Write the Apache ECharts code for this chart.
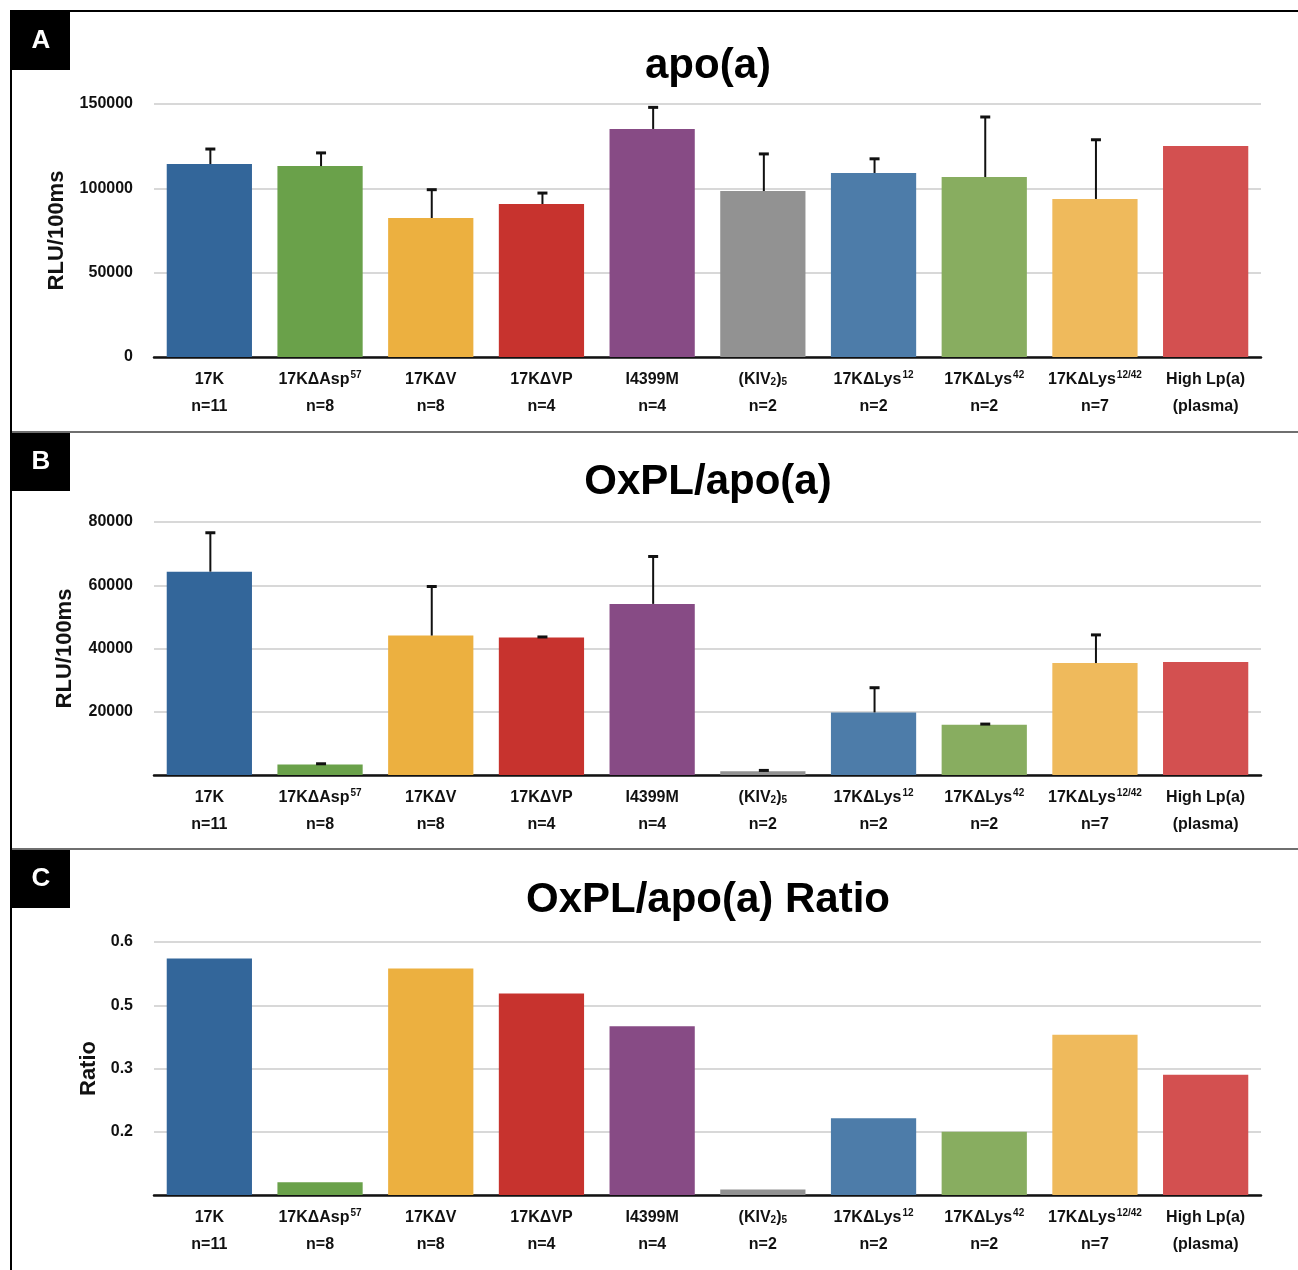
<!DOCTYPE html>
<html>
<head>
<meta charset="utf-8">
<title>apo(a) / OxPL</title>
<script src="https://cdn.jsdelivr.net/npm/echarts@6/dist/echarts.min.js"></script>
<style>
  html, body { margin: 0; padding: 0; background: #fff; }
  #chart { width: 1298px; height: 1270px; }
</style>
</head>
<body>
<div id="chart"></div>
<script>
// categories (rich text for super/subscripts) and the n= line
const categories = ['17K', '17KΔAsp57', '17KΔV', '17KΔVP', 'I4399M', '(KIV2)5', '17KΔLys12', '17KΔLys42', '17KΔLys12/42', 'High Lp(a)'];
const catRich = ['{b|17K}', '{b|17KΔAsp}{sup|57}', '{b|17KΔV}', '{b|17KΔVP}', '{b|I4399M}',
  '{b|(KIV}{sub|2}{b|)}{sub|5}', '{b|17KΔLys}{sup|12}', '{b|17KΔLys}{sup|42}', '{b|17KΔLys}{sup|12/42}', '{b|High Lp(a)}'];
const catN = ['n=11', 'n=8', 'n=8', 'n=4', 'n=4', 'n=2', 'n=2', 'n=2', 'n=7', '(plasma)'];
const barColors = ['#33669a', '#6aa14a', '#ecb040', '#c7332e', '#874b85', '#929292', '#4d7ca9', '#88ad60', '#efba5c', '#d35050'];

// panel A: apo(a)
const apoVals = [114400, 113200, 82400, 90700, 135200, 98400, 109100, 106700, 93700, 125100];
const apoErr = [8900, 7800, 16800, 6500, 12800, 22000, 8400, 35600, 35100, null];
// panel B: OxPL/apo(a)
const oxVals = [64300, 3300, 44100, 43500, 54100, 1150, 19800, 15900, 35400, 35700];
const oxErr = [12300, 250, 15500, 150, 15000, 300, 7800, 200, 8900, null];
// panel C: ratio
const ratioVals = [0.561, 0.030, 0.537, 0.478, 0.400, 0.013, 0.182, 0.150, 0.380, 0.285];

const FONT = '"Liberation Sans", Helvetica, Arial, sans-serif';

const panels = [
  { title: 'apo(a)', letter: 'A', top: 104, name: 'RLU/100ms', nameGap: 86, max: 150000, step: 50000, showZero: true, vals: apoVals, err: apoErr, titleY: 66, boxY: 12 },
  { title: 'OxPL/apo(a)', letter: 'B', top: 522, name: 'RLU/100ms', nameGap: 78, max: 80000, step: 20000, showZero: false, vals: oxVals, err: oxErr, titleY: 482, boxY: 433 },
  { title: 'OxPL/apo(a) Ratio', letter: 'C', top: 942, name: 'Ratio', nameGap: 54, max: 0.6, step: 0.15, showZero: false, vals: ratioVals, err: null, titleY: 900, boxY: 850 }
];

const chart = echarts.init(document.getElementById('chart'));

const grids = [], xAxes = [], yAxes = [], series = [], graphics = [];

panels.forEach(function (p, i) {
  grids.push({ left: 154, right: 37, top: p.top, height: 253 });
  xAxes.push({
    type: 'category', gridIndex: i, data: categories,
    axisTick: { show: false },
    axisLine: { lineStyle: { color: '#111', width: 2.5 } },
    axisLabel: {
      interval: 0, margin: 9,
      formatter: function (v, idx) { return catRich[idx] + '\n{n|' + catN[idx] + '}'; },
      rich: {
        b: { fontFamily: FONT, fontWeight: 'bold', fontSize: 16, color: '#111', lineHeight: 27 },
        n: { fontFamily: FONT, fontWeight: 'bold', fontSize: 16, color: '#111', lineHeight: 27 },
        sup: { fontFamily: FONT, fontWeight: 'bold', fontSize: 10, color: '#111', padding: [0, 0, 9, 1] },
        sub: { fontFamily: FONT, fontWeight: 'bold', fontSize: 10, color: '#111', padding: [6, 0, 0, 0] }
      }
    }
  });
  yAxes.push({
    type: 'value', gridIndex: i, min: 0, max: p.max, interval: p.step,
    name: p.name, nameLocation: 'middle', nameGap: p.nameGap, nameRotate: 90,
    nameTextStyle: { fontFamily: FONT, fontWeight: 'bold', fontSize: 22, color: '#111' },
    axisLine: { show: false }, axisTick: { show: false },
    splitLine: { lineStyle: { color: '#cbcbcb', width: 1.5 } },
    axisLabel: {
      showMinLabel: p.showZero, margin: 21,
      fontFamily: FONT, fontWeight: 'bold', fontSize: 16, color: '#111',
      formatter: function (v) {
        if (p.step < 1) return (Math.round(v * 10) / 10).toFixed(1);
        return String(v);
      }
    }
  });
  series.push({
    type: 'bar', xAxisIndex: i, yAxisIndex: i, barWidth: '77%',
    data: p.vals.map(function (v, k) { return { value: v, itemStyle: { color: barColors[k] } }; }),
    silent: true
  });
  if (p.err) {
    series.push({
      type: 'custom', xAxisIndex: i, yAxisIndex: i, silent: true, z: 5,
      data: p.vals.map(function (v, k) { return p.err[k] == null ? [k, v, v] : [k, v, v + p.err[k]]; })
        .filter(function (d, k) { return p.err[k] != null; }),
      renderItem: function (params, api) {
        const x = api.value(0);
        const lo = api.coord([x, api.value(1)]);
        const hi = api.coord([x, api.value(2)]);
        const cx = lo[0] + 1;
        return {
          type: 'group',
          children: [
            { type: 'line', shape: { x1: cx, y1: lo[1], x2: cx, y2: hi[1] }, style: { stroke: '#111', lineWidth: 2 } },
            { type: 'line', shape: { x1: cx - 5, y1: hi[1], x2: cx + 5, y2: hi[1] }, style: { stroke: '#111', lineWidth: 3 } }
          ]
        };
      }
    });
  }
  // panel letter box
  graphics.push({ type: 'rect', left: 12, top: p.boxY, shape: { width: 58, height: 58 }, style: { fill: '#000' }, z: 10 });
  graphics.push({ type: 'text', x: 41, y: p.boxY + 29, style: { text: p.letter, fill: '#fff', font: 'bold 26px ' + FONT, align: 'center', verticalAlign: 'middle' }, z: 11 });
  // panel title
  graphics.push({ type: 'text', x: 708, y: p.titleY, style: { text: p.title, fill: '#000', font: 'bold 42px ' + FONT, align: 'center', verticalAlign: 'middle' }, z: 11 });
});

// frame and separators
graphics.push({ type: 'rect', shape: { x: 10, y: 10, width: 1288, height: 2 }, style: { fill: '#000' }, z: 9 });
graphics.push({ type: 'rect', shape: { x: 10, y: 10, width: 2, height: 1260 }, style: { fill: '#000' }, z: 9 });
graphics.push({ type: 'rect', shape: { x: 12, y: 431, width: 1286, height: 2 }, style: { fill: '#6f6f6f' }, z: 9 });
graphics.push({ type: 'rect', shape: { x: 12, y: 848, width: 1286, height: 2 }, style: { fill: '#6f6f6f' }, z: 9 });

chart.setOption({
  backgroundColor: '#fff',
  animation: false,
  grid: grids,
  xAxis: xAxes,
  yAxis: yAxes,
  series: series,
  graphic: graphics
});
</script>
</body>
</html>
